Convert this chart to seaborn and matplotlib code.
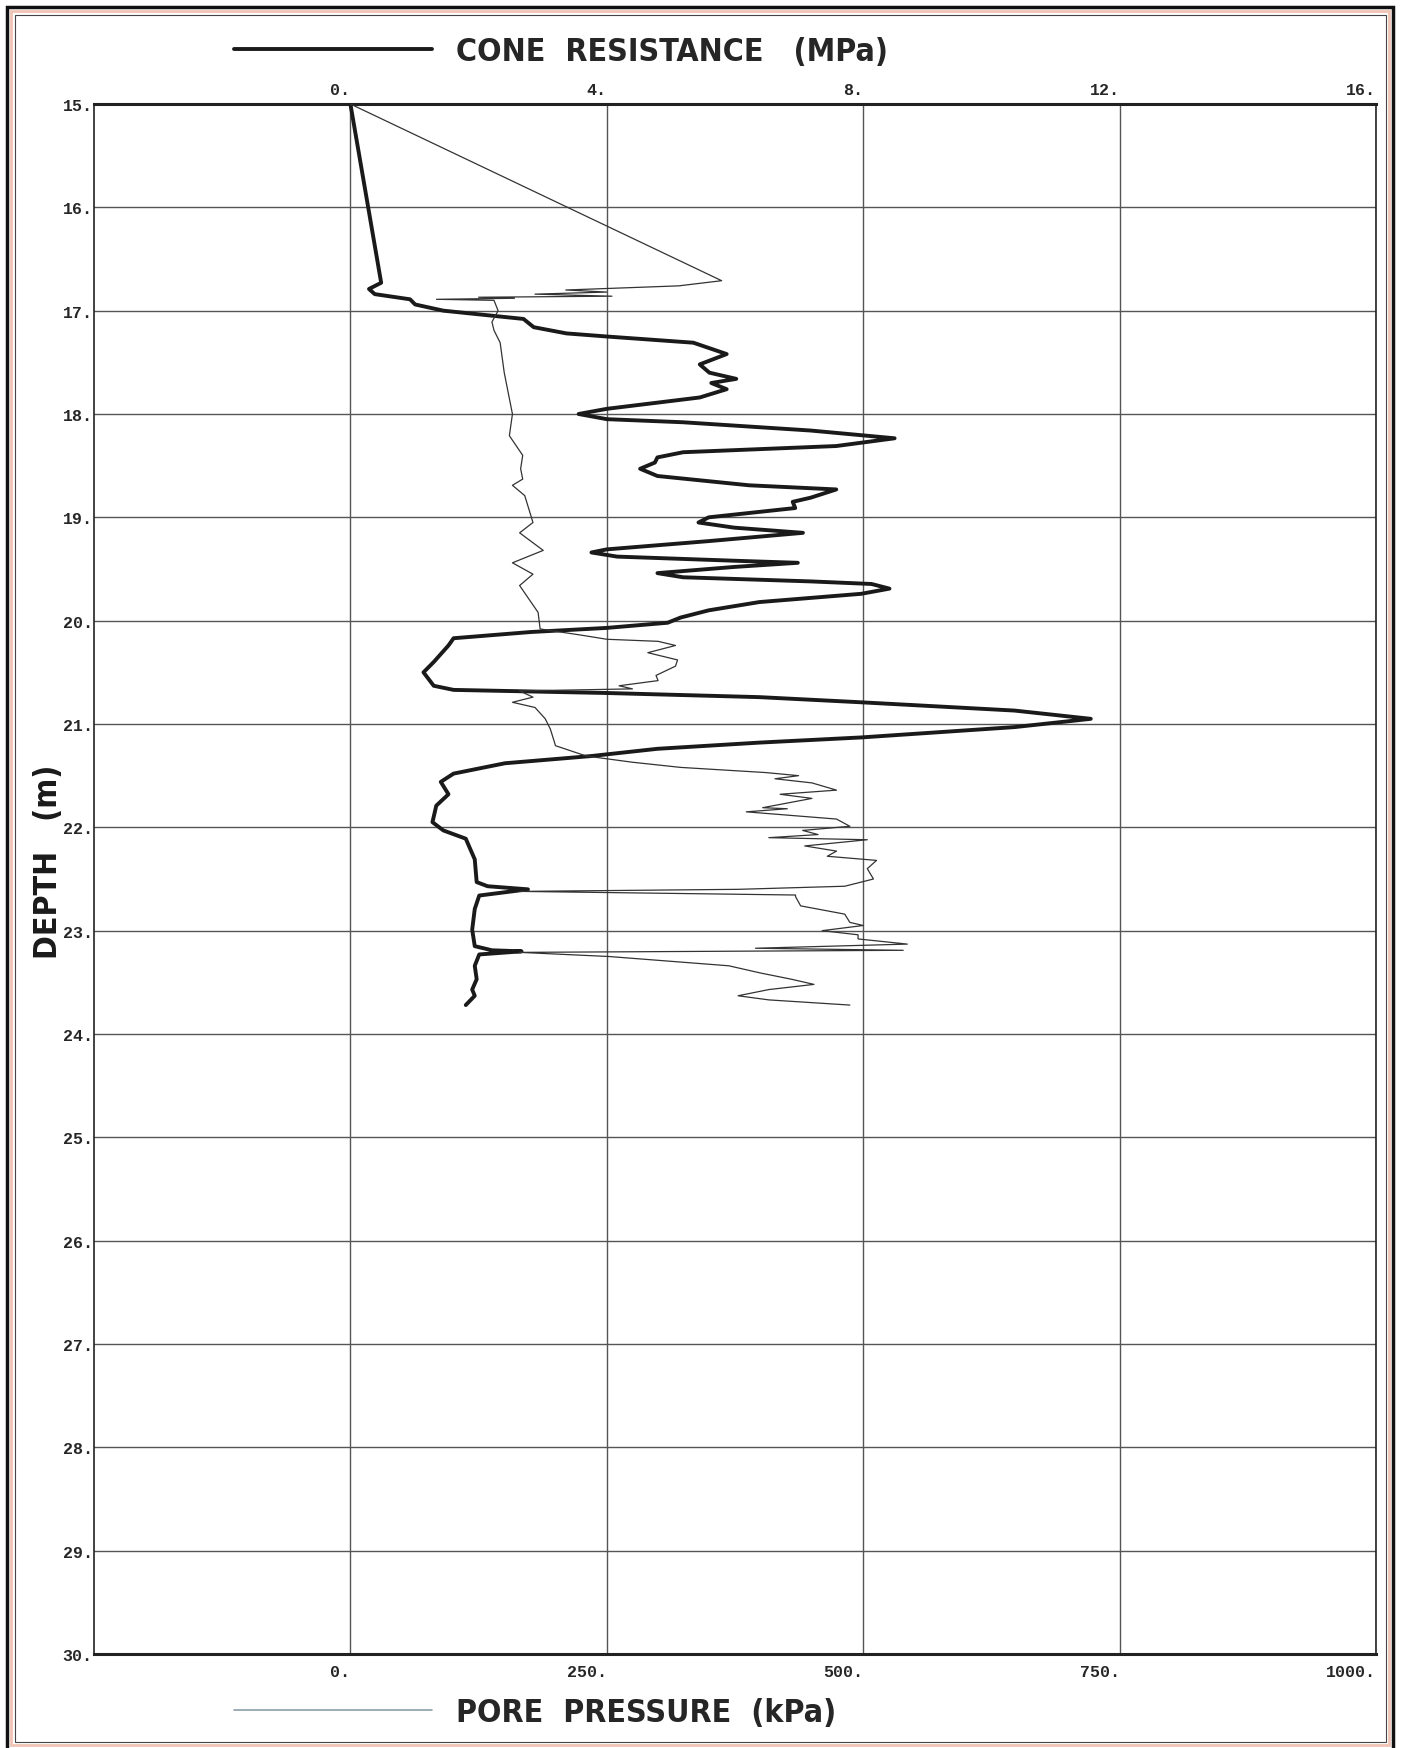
import matplotlib
matplotlib.use("Agg")
import matplotlib.pyplot as plt
import matplotlib.patches as patches
from matplotlib.lines import Line2D
import seaborn as sns

# Cone resistance (MPa) against depth (m)
cone_depth = [15.00, 16.73, 16.79, 16.84, 16.89, 16.94, 17.00, 17.05, 17.08, 17.16,
              17.22, 17.25, 17.31, 17.42, 17.52, 17.60, 17.66, 17.70, 17.76, 17.84,
              17.95, 18.00, 18.05, 18.08, 18.16, 18.235, 18.31, 18.37, 18.42, 18.47,
              18.53, 18.60, 18.69, 18.73, 18.81, 18.85, 18.91, 19.00, 19.05, 19.10,
              19.15, 19.23, 19.31, 19.34, 19.38, 19.42, 19.44, 19.48, 19.54, 19.58,
              19.62, 19.645, 19.69, 19.74, 19.82, 19.90, 19.97, 20.02, 20.07, 20.11,
              20.17, 20.24, 20.40, 20.50, 20.63, 20.67, 20.70, 20.74, 20.79, 20.87,
              20.95, 21.03, 21.13, 21.18, 21.24, 21.31, 21.38, 21.42, 21.48, 21.56,
              21.68, 21.79, 21.95, 22.03, 22.11, 22.31, 22.53, 22.57, 22.60, 22.63,
              22.66, 22.79, 22.99, 23.15, 23.19, 23.20, 23.23, 23.34, 23.47, 23.57,
              23.63, 23.72]
cone_mpa = [0.00, 0.48, 0.29, 0.38, 0.93, 1.01, 1.45, 2.23, 2.70, 2.86,
            3.37, 4.00, 5.35, 5.87, 5.45, 5.60, 6.02, 5.63, 5.87, 5.45,
            4.00, 3.56, 4.00, 5.19, 7.18, 8.49, 7.58, 5.19, 4.79, 4.75,
            4.52, 4.79, 6.22, 7.58, 7.18, 6.90, 6.94, 5.59, 5.43, 5.99,
            7.06, 5.59, 4.00, 3.76, 4.16, 5.99, 6.98, 5.99, 4.79, 5.19,
            7.18, 8.13, 8.41, 7.97, 6.38, 5.59, 5.15, 4.95, 4.00, 2.81,
            1.61, 1.53, 1.30, 1.14, 1.30, 1.61, 4.00, 6.38, 7.97, 10.36,
            11.55, 10.36, 7.97, 6.38, 4.79, 3.76, 2.41, 2.09, 1.61, 1.41,
            1.53, 1.34, 1.28, 1.45, 1.80, 1.94, 1.97, 2.14, 2.77, 2.39,
            2.01, 1.94, 1.90, 1.94, 2.21, 2.67, 2.01, 1.94, 1.97, 1.90,
            1.94, 1.80]

# Pore pressure (kPa) against depth (m)
pore_depth = [15.00, 16.71, 16.76, 16.80, 16.82, 16.84, 16.86, 16.87, 16.88, 16.89,
              16.90, 17.00, 17.11, 17.19, 17.31, 17.60, 18.00, 18.21, 18.40, 18.53,
              18.63, 18.69, 18.79, 19.05, 19.15, 19.32, 19.44, 19.55, 19.66, 19.92,
              20.08, 20.14, 20.18, 20.20, 20.24, 20.31, 20.38, 20.44, 20.53, 20.58,
              20.63, 20.66, 20.68, 20.74, 20.79, 20.84, 20.95, 21.05, 21.21, 21.31,
              21.37, 21.42, 21.47, 21.50, 21.53, 21.57, 21.64, 21.68, 21.72, 21.81,
              21.82, 21.85, 21.92, 21.99, 22.03, 22.07, 22.10, 22.12, 22.18, 22.23,
              22.28, 22.32, 22.40, 22.50, 22.57, 22.60, 22.62, 22.655, 22.67, 22.76,
              22.84, 22.92, 22.95, 23.00, 23.04, 23.08, 23.13, 23.17, 23.19, 23.21,
              23.25, 23.34, 23.41, 23.47, 23.52, 23.57, 23.63, 23.67, 23.72]
pore_kpa = [0, 362, 320, 210, 250, 180, 255, 125, 160, 84,
            140, 144, 138, 140, 146, 150, 158, 155, 168, 166,
            168, 158, 170, 178, 165, 188, 158, 178, 165, 183,
            185, 225, 250, 300, 317, 290, 319, 317, 298, 300,
            262, 275, 165, 178, 158, 180, 190, 195, 200, 230,
            275, 322, 405, 437, 414, 450, 474, 419, 450, 402,
            426, 386, 474, 487, 441, 456, 408, 504, 443, 474,
            465, 513, 504, 510, 482, 378, 165, 434, 434, 439,
            482, 487, 500, 460, 495, 495, 543, 395, 539, 165,
            252, 369, 400, 430, 452, 408, 378, 408, 487]

cone_ticks = [0, 4, 8, 12, 16]
pore_ticks = [0, 250, 500, 750, 1000]
depth_ticks = list(range(15, 31))

sns.set_style("white")
title_font = {'family': 'DejaVu Sans', 'stretch': 'condensed', 'weight': 'bold', 'size': 23}
tick_font = {'family': ['Liberation Mono', 'DejaVu Sans Mono'], 'weight': 'bold', 'size': 12}


def style_labels(labels, ha=None):
    for lab in labels:
        if ha:
            lab.set_ha(ha)
        lab.set_family(tick_font['family'])
        lab.set_fontsize(tick_font['size'])
        lab.set_fontweight(tick_font['weight'])


fig = plt.figure(figsize=(14.12, 17.49), dpi=100)
ax = fig.add_axes([94 / 1412, 1 - 1655 / 1749, 1282 / 1412, 1550 / 1749])
ax2 = ax.twiny()

sns.lineplot(x=cone_mpa, y=cone_depth, sort=False, estimator=None, ax=ax,
             color='#1a1a1a', linewidth=2.8, zorder=3)
sns.lineplot(x=pore_kpa, y=pore_depth, sort=False, estimator=None, ax=ax2,
             color='#333333', linewidth=0.9)

# cone resistance axis on top
ax.set_xlim(-4, 16)
ax.set_ylim(30, 15)
ax.xaxis.tick_top()
ax.set_xticks(cone_ticks)
ax.set_xticklabels([f"{t}." for t in cone_ticks])
ax.set_yticks(depth_ticks)
ax.set_yticklabels([f"{t}." for t in depth_ticks])
ax.tick_params(axis='x', which='both', top=True, bottom=False, labeltop=True,
               labelbottom=False, length=0, pad=5)
ax.tick_params(axis='y', length=0, pad=1)
style_labels(ax.get_xticklabels(), ha='right')
style_labels(ax.get_yticklabels())
ax.grid(True, color='#555555', linewidth=1.0)
ax.set_xlabel('')
ax.set_ylabel('DEPTH   (m)', color='#1a1a1a', **title_font)
ax.yaxis.set_label_coords(-0.0235, 0.512)

for side in ['top', 'bottom']:
    ax.spines[side].set_linewidth(2.2)
for side in ['left', 'right']:
    ax.spines[side].set_linewidth(1.2)
for sp in ax.spines.values():
    sp.set_color('#222222')

# pore pressure axis at bottom
ax2.set_xlim(-250, 1000)
ax2.set_ylim(30, 15)
ax2.set_xticks(pore_ticks)
ax2.set_xticklabels([f"{t}." for t in pore_ticks])
ax2.tick_params(axis='x', which='both', top=False, bottom=True, labeltop=False,
                labelbottom=True, length=0, pad=7)
style_labels(ax2.get_xticklabels(), ha='right')
ax2.set_xlabel('')
ax2.grid(False)
for sp in ax2.spines.values():
    sp.set_visible(False)

# legend-style titles
cone_handle = Line2D([], [], color='#1a1a1a', linewidth=2.8)
pore_handle = Line2D([], [], color='#8a9ea8', linewidth=1.2)
fig.legend(handles=[cone_handle], labels=['CONE  RESISTANCE   (MPa)'],
           loc='center left', bbox_to_anchor=(234 / 1412, 1 - 53 / 1749),
           frameon=False, handlelength=6.2, handletextpad=0.75, borderpad=0,
           borderaxespad=0, prop=title_font)
fig.legend(handles=[pore_handle], labels=['PORE  PRESSURE  (kPa)'],
           loc='center left', bbox_to_anchor=(234 / 1412, 1 - 1714 / 1749),
           frameon=False, handlelength=6.2, handletextpad=0.75, borderpad=0,
           borderaxespad=0, prop=title_font)

# page border
W, H = 1412, 1749
fig.add_artist(patches.Rectangle((7 / W, -0.01), (1393 - 7) / W, 1 - 8 / H + 0.01,
                                 transform=fig.transFigure, fill=False,
                                 edgecolor='#111111', linewidth=2.5))
fig.add_artist(patches.Rectangle((11 / W, 3 / H), (1389 - 11) / W, 1 - 15 / H,
                                 transform=fig.transFigure, fill=False,
                                 edgecolor='#f0c4b4', linewidth=2.0))
fig.add_artist(patches.Rectangle((15 / W, 6 / H), (1386 - 15) / W, 1 - 22 / H,
                                 transform=fig.transFigure, fill=False,
                                 edgecolor='#444444', linewidth=0.8))

fig.savefig('out.png', dpi=100)
